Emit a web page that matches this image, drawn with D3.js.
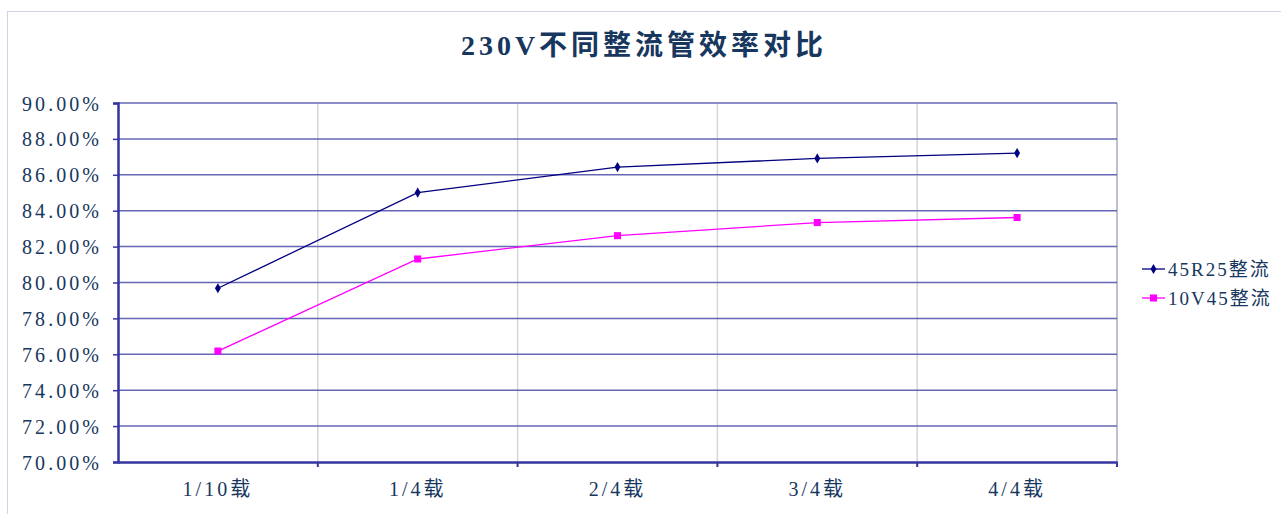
<!DOCTYPE html>
<html>
<head>
<meta charset="utf-8">
<script src="https://cdn.jsdelivr.net/npm/d3@7"></script>
<style>
  html, body { margin: 0; padding: 0; background: #fff; }
  svg { display: block; }
  text { font-family: 'Liberation Serif', 'DejaVu Serif', 'Noto Sans CJK SC', serif; fill: #17375e; }
</style>
</head>
<body>
<svg id="chart"></svg>
<script>
const categories = ['1/10载', '1/4载', '2/4载', '3/4载', '4/4载'];
const seriesNames = ['45R25整流', '10V45整流'];
const series45R25 = [0.7968, 0.8501, 0.8643, 0.8691, 0.8721];
const series10V45 = [0.7618, 0.8131, 0.8261, 0.8334, 0.8362];
const yTicks = [0.70, 0.72, 0.74, 0.76, 0.78, 0.80, 0.82, 0.84, 0.86, 0.88, 0.90];
const title = '230V不同整流管效率对比';

const width = 1281;
const height = 514;
const plot = { left: 118, right: 1117, top: 103, bottom: 462 };

const svg = d3.select('#chart')
  .attr('width', width)
  .attr('height', height);

// outer chart frame
svg.append('rect')
  .attr('x', 7.5)
  .attr('y', 11.5)
  .attr('width', 1300)
  .attr('height', 520)
  .attr('fill', '#fff')
  .attr('stroke', '#d2d2e6')
  .attr('stroke-width', 1);

const x = d3.scaleBand()
  .domain(categories)
  .range([plot.left, plot.right])
  .padding(0);
const y = d3.scaleLinear()
  .domain([0.70, 0.90])
  .range([plot.bottom, plot.top]);

const g = svg.append('g');

// vertical grid lines between categories
g.selectAll('.vgrid')
  .data(categories.slice(1))
  .enter().append('line')
    .attr('class', 'vgrid')
    .attr('x1', d => x(d))
    .attr('x2', d => x(d))
    .attr('y1', plot.top)
    .attr('y2', plot.bottom)
    .attr('stroke', '#d6d6d6')
    .attr('stroke-width', 1.5);

// right border of plot area
g.append('line')
  .attr('x1', plot.right)
  .attr('x2', plot.right)
  .attr('y1', plot.top)
  .attr('y2', plot.bottom)
  .attr('stroke', '#a8a8c8')
  .attr('stroke-width', 1.5);

// horizontal grid lines
g.selectAll('.hgrid')
  .data(yTicks.slice(1))
  .enter().append('line')
    .attr('class', 'hgrid')
    .attr('x1', plot.left)
    .attr('x2', plot.right)
    .attr('y1', d => y(d))
    .attr('y2', d => y(d))
    .attr('stroke', '#6666b6')
    .attr('stroke-width', 1.5);

// Y axis
const yAxis = d3.axisLeft(y)
  .tickValues(yTicks)
  .tickSize(5)
  .tickPadding(14)
  .tickFormat(d3.format('.2%'));
const yG = g.append('g')
  .attr('transform', `translate(${plot.left}, 0)`)
  .call(yAxis);
yG.select('.domain')
  .attr('stroke', '#3535a0')
  .attr('stroke-width', 2.5);
yG.selectAll('.tick line')
  .attr('stroke', '#3535a0')
  .attr('stroke-width', 1.5);
yG.selectAll('.tick text')
  .attr('font-size', 20)
  .attr('dy', '0.35em')
  .attr('textLength', 77)
  .attr('lengthAdjust', 'spacing')
  .style('fill', '#17375e');

// X axis
const xAxis = d3.axisBottom(x)
  .tickSize(0)
  .tickPadding(20);
const xG = g.append('g')
  .attr('transform', `translate(0, ${plot.bottom})`)
  .call(xAxis);
xG.select('.domain')
  .attr('stroke', '#3535a0')
  .attr('stroke-width', 2.5);
xG.selectAll('.tick text')
  .attr('font-size', 20)
  .attr('dy', '0.71em')
  .attr('letter-spacing', 3)
  .style('fill', '#17375e');
xG.selectAll('.sep')
  .data(categories.slice(1).concat(['end']))
  .enter().append('line')
    .attr('class', 'sep')
    .attr('x1', d => d === 'end' ? plot.right : x(d))
    .attr('x2', d => d === 'end' ? plot.right : x(d))
    .attr('y1', 0)
    .attr('y2', 5)
    .attr('stroke', '#3535a0')
    .attr('stroke-width', 2);

// series
const seriesData = [
  { name: seriesNames[0], values: series45R25, color: '#000080', symbol: d3.symbolDiamond, size: 30 },
  { name: seriesNames[1], values: series10V45, color: '#ff00ff', symbol: d3.symbolSquare, size: 50 },
];

const line = d3.line()
  .x((d, i) => x(categories[i]) + x.bandwidth() / 2)
  .y(d => y(d));

seriesData.forEach((s) => {
  g.append('path')
    .datum(s.values)
    .attr('fill', 'none')
    .attr('stroke', s.color)
    .attr('stroke-width', 1.3)
    .attr('d', line);
  g.selectAll(null)
    .data(s.values)
    .enter().append('path')
      .attr('d', d3.symbol().type(s.symbol).size(s.size))
      .attr('transform', (d, i) => `translate(${x(categories[i]) + x.bandwidth() / 2}, ${y(d)})`)
      .attr('fill', s.color);
});

// Title
svg.append('text')
  .attr('x', 644)
  .attr('y', 55)
  .attr('text-anchor', 'middle')
  .attr('font-size', 28)
  .attr('font-weight', 'bold')
  .attr('letter-spacing', 4)
  .text(title);

// Legend
const legend = svg.append('g')
  .attr('transform', 'translate(1142, 269)');
seriesData.forEach((s, i) => {
  const row = legend.append('g')
    .attr('transform', `translate(0, ${i * 29})`);
  row.append('line')
    .attr('x1', 0)
    .attr('x2', 23)
    .attr('stroke', s.color)
    .attr('stroke-width', 1.3);
  row.append('path')
    .attr('d', d3.symbol().type(s.symbol).size(s.size))
    .attr('transform', 'translate(11.5, 0)')
    .attr('fill', s.color);
  row.append('text')
    .attr('x', 26)
    .attr('y', 7)
    .attr('font-size', 19)
    .attr('letter-spacing', 2)
    .text(s.name);
});
</script>
</body>
</html>
